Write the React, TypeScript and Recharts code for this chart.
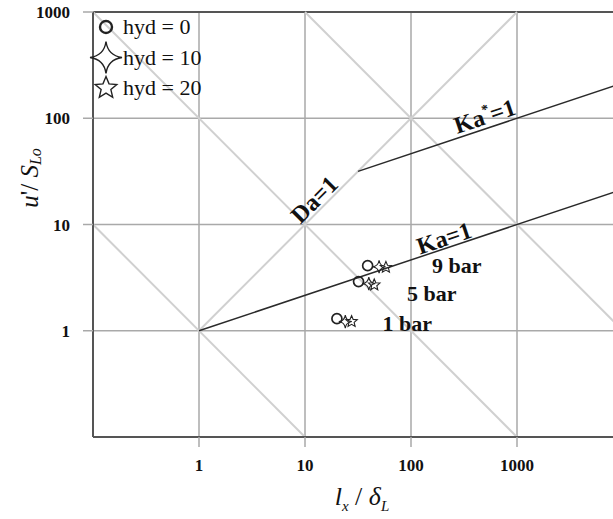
import React from "react";
import {
  ScatterChart,
  Scatter,
  XAxis,
  YAxis,
  CartesianGrid,
  ReferenceLine,
  ReferenceDot,
} from "recharts";

const FONT = '"Liberation Serif", "Times New Roman", serif';

// axis ticks
const xTicks = [1, 10, 100, 1000];
const yTicks = [1, 10, 100, 1000];
const xDomain = [0.1, 10000];
const yDomain = [0.1, 1000];

// measurement points (x = l_x/delta_L, y = u'/S_Lo)
const hyd0 = [
  { x: 20, y: 1.3 },
  { x: 32, y: 2.9 },
  { x: 39, y: 4.1 },
];
const hyd10 = [
  { x: 24, y: 1.22 },
  { x: 40, y: 2.78 },
  { x: 50, y: 4.0 },
];
const hyd20 = [
  { x: 27.5, y: 1.22 },
  { x: 45, y: 2.7 },
  { x: 58, y: 3.95 },
];

// light diagonal guide lines (start, end)
const guideLines = [
  [{ x: 0.1, y: 10 }, { x: 10, y: 0.1 }],
  [{ x: 0.1, y: 1000 }, { x: 1000, y: 0.1 }],
  [{ x: 10, y: 1000 }, { x: 10000, y: 1 }],
  [{ x: 1, y: 1 }, { x: 1000, y: 1000 }],
];

// regime boundaries
const kaLine = [{ x: 1, y: 1 }, { x: 10000, y: 21.544 }];
const kaStarLine = [{ x: 31.62, y: 31.62 }, { x: 10000, y: 215.44 }];

// annotation anchors
const lineLabels = [
  { x: 540, y: 81.4, text: "Ka*=1", angle: -18.43, dy: -4 },
  { x: 220, y: 6.04, text: "Ka=1", angle: -18.43, dy: -2 },
  { x: 14.5, y: 14.5, text: "Da=1", angle: -45, dy: -3 },
];
const pressureLabels = [
  { x: 270, y: 4.09, text: "9 bar" },
  { x: 157, y: 2.23, text: "5 bar" },
  { x: 92, y: 1.16, text: "1 bar" },
];

const legendItems = [
  { name: "hyd = 0", kind: "circle" },
  { name: "hyd = 10", kind: "star4" },
  { name: "hyd = 20", kind: "star5" },
];

const INK = "#222";

function star4Path(cx: number, cy: number, R: number) {
  const r = R * 0.12;
  return `M${cx},${cy - R} Q${cx + r},${cy - r} ${cx + R},${cy} Q${cx + r},${cy + r} ${cx},${cy + R} Q${cx - r},${cy + r} ${cx - R},${cy} Q${cx - r},${cy - r} ${cx},${cy - R} Z`;
}

function star5Points(cx: number, cy: number, R: number) {
  const r = R * 0.45;
  const pts: string[] = [];
  for (let i = 0; i < 10; i++) {
    const rad = i % 2 === 0 ? R : r;
    const a = -Math.PI / 2 + (i * Math.PI) / 5;
    pts.push(`${cx + rad * Math.cos(a)},${cy + rad * Math.sin(a)}`);
  }
  return pts.join(" ");
}

function Symbol({ kind, cx, cy, size }: { kind: string; cx: number; cy: number; size: number }) {
  if (kind === "circle") {
    return <circle cx={cx} cy={cy} r={size * 0.5} fill="none" stroke={INK} strokeWidth={size > 10 ? 2.4 : 1.7} />;
  }
  if (kind === "star4") {
    return <path d={star4Path(cx, cy, size)} fill="none" stroke={INK} strokeWidth={size > 10 ? 1.4 : 1.1} />;
  }
  return <polygon points={star5Points(cx, cy, size * 0.6)} fill="none" stroke={INK} strokeWidth={size > 10 ? 1.4 : 1.1} />;
}

const makeShape = (kind: string) => (props: any) => {
  const { cx, cy } = props;
  if (cx == null || cy == null) return <g />;
  return <Symbol kind={kind} cx={cx} cy={cy} size={kind === "star4" ? 6.5 : 10} />;
};

const LegendBox = () => (
  <svg
    width={170}
    height={100}
    style={{ position: "absolute", left: 88, top: 10, overflow: "visible" }}
  >
    {legendItems.map((it, i) => {
      const cy = 17 + i * 30.5;
      const size = it.kind === "star4" ? 16 : it.kind === "circle" ? 12 : 19;
      return (
        <g key={it.name}>
          <Symbol kind={it.kind} cx={18} cy={cy} size={size} />
          <text x={35} y={cy + 7} fontFamily={FONT} fontSize={22} fill="#111">
            {it.name}
          </text>
        </g>
      );
    })}
  </svg>
);

const rotatedLabel = (text: string, angle: number, dy: number) => (props: any) => {
  const vb = props.viewBox || {};
  const cx = (vb.x || 0) + (vb.width || 0) / 2;
  const cy = (vb.y || 0) + (vb.height || 0) / 2;
  const star = text.includes("*");
  return (
    <text
      x={cx}
      y={cy + dy}
      transform={`rotate(${angle}, ${cx}, ${cy})`}
      textAnchor="middle"
      fontFamily={FONT}
      fontWeight="bold"
      fontSize={24}
      fill="#111"
    >
      {star ? (
        <>
          <tspan>Ka</tspan>
          <tspan dy={-10} fontSize={14}>*</tspan>
          <tspan dy={10}>=1</tspan>
        </>
      ) : (
        text
      )}
    </text>
  );
};

const plainLabel = (text: string) => (props: any) => {
  const vb = props.viewBox || {};
  const cx = (vb.x || 0) + (vb.width || 0) / 2;
  const cy = (vb.y || 0) + (vb.height || 0) / 2;
  return (
    <text x={cx} y={cy + 7} textAnchor="middle" fontFamily={FONT} fontWeight="bold" fontSize={22} fill="#111">
      {text}
    </text>
  );
};

const yTitle = (props: any) => {
  const vb = props.viewBox || { x: 0, y: 12 };
  const cx = vb.x + 29;
  const cy = vb.y + 166;
  return (
    <text
      x={cx}
      y={cy}
      transform={`rotate(-90, ${cx}, ${cy})`}
      textAnchor="middle"
      dominantBaseline="central"
      fontFamily={FONT}
      fontSize={25}
      fill="#111"
    >
      <tspan fontStyle="italic">u</tspan>
      <tspan>'/ </tspan>
      <tspan fontStyle="italic">S</tspan>
      <tspan fontStyle="italic" fontSize={16} dy={6}>Lo</tspan>
    </text>
  );
};

const xTitle = (props: any) => {
  const vb = props.viewBox || { x: 93, y: 437, width: 530 };
  const cx = 362;
  const cy = vb.y + 68;
  return (
    <text x={cx} y={cy} textAnchor="middle" fontFamily={FONT} fontSize={26} fill="#111">
      <tspan fontStyle="italic">l</tspan>
      <tspan fontStyle="italic" fontSize={15} dy={6}>x</tspan>
      <tspan dy={-6}> / </tspan>
      <tspan fontStyle="italic">δ</tspan>
      <tspan fontStyle="italic" fontSize={15} dy={6}>L</tspan>
    </text>
  );
};

const tickStyle = { fill: "#111", fontSize: 17, fontWeight: "bold", fontFamily: FONT };

export default function App() {
  return (
    <div
      style={{
        position: "fixed",
        left: 0,
        top: 0,
        width: 613,
        height: 519,
        overflow: "hidden",
        background: "#fff",
      }}
    >
      <ScatterChart width={625} height={519} margin={{ top: 12, right: 2, bottom: 0, left: 0 }}>
        <CartesianGrid stroke="#a9a9a9" strokeWidth={1.5} />
        <XAxis
          type="number"
          dataKey="x"
          scale="log"
          domain={xDomain}
          ticks={xTicks}
          allowDataOverflow
          height={82}
          tick={tickStyle}
          tickFormatter={(v: number) => String(v)}
          tickSize={10}
          tickMargin={12}
          tickLine={{ stroke: "#a9a9a9", strokeWidth: 1.5 }}
          axisLine={{ stroke: "#555", strokeWidth: 2 }}
          label={{ content: xTitle }}
        />
        <YAxis
          type="number"
          dataKey="y"
          scale="log"
          domain={yDomain}
          ticks={yTicks}
          allowDataOverflow
          width={93}
          tick={tickStyle}
          tickFormatter={(v: number) => String(v)}
          tickSize={10}
          tickMargin={13}
          tickLine={{ stroke: "#a9a9a9", strokeWidth: 1.5 }}
          axisLine={{ stroke: "#555", strokeWidth: 2 }}
          label={{ content: yTitle }}
        />
        <ReferenceLine y={1000} stroke="#555" strokeWidth={2} ifOverflow="visible" />
        {guideLines.map((seg, i) => (
          <ReferenceLine key={`g${i}`} segment={seg} stroke="#d0d0d0" strokeWidth={2} ifOverflow="visible" />
        ))}
        <ReferenceLine segment={kaLine} stroke="#2a2a2a" strokeWidth={1.5} ifOverflow="visible" />
        <ReferenceLine segment={kaStarLine} stroke="#2a2a2a" strokeWidth={1.5} ifOverflow="visible" />
        <Scatter name="hyd = 0" data={hyd0} shape={makeShape("circle")} isAnimationActive={false} />
        <Scatter name="hyd = 10" data={hyd10} shape={makeShape("star4")} isAnimationActive={false} />
        <Scatter name="hyd = 20" data={hyd20} shape={makeShape("star5")} isAnimationActive={false} />
        {lineLabels.map((l) => (
          <ReferenceDot
            key={l.text}
            x={l.x}
            y={l.y}
            r={1}
            fill="none"
            stroke="none"
            ifOverflow="visible"
            label={{ content: rotatedLabel(l.text, l.angle, l.dy) }}
          />
        ))}
        {pressureLabels.map((l) => (
          <ReferenceDot
            key={l.text}
            x={l.x}
            y={l.y}
            r={1}
            fill="none"
            stroke="none"
            ifOverflow="visible"
            label={{ content: plainLabel(l.text) }}
          />
        ))}
      </ScatterChart>
      <LegendBox />
    </div>
  );
}
